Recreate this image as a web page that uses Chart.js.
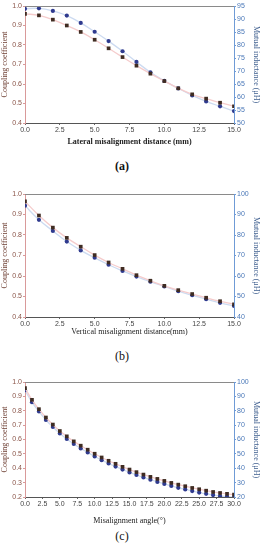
<!DOCTYPE html>
<html>
<head>
<meta charset="utf-8">
<script src="https://cdn.jsdelivr.net/npm/chart.js@4.4.1/dist/chart.umd.min.js"></script>
<style>
  html, body { margin: 0; padding: 0; background: #fff; }
  body { width: 261px; height: 550px; position: relative; overflow: hidden; }
  .panel { position: absolute; left: 0; width: 261px; }
  .tag { position: absolute; left: 0; width: 244px; text-align: center;
         font-family: "Liberation Serif", serif; font-size: 12px; color: #111; }
</style>
</head>
<body>
<div class="panel" style="top:0;height:150px"><canvas id="chartA"></canvas></div>
<div class="tag" style="top:159px;font-weight:bold">(a)</div>
<div class="panel" style="top:185px;height:155px"><canvas id="chartB"></canvas></div>
<div class="tag" style="top:349px">(b)</div>
<div class="panel" style="top:370px;height:159px"><canvas id="chartC"></canvas></div>
<div class="tag" style="top:529px">(c)</div>

<script>
// (a) lateral misalignment
const lateralMm = [0, 1, 2, 3, 4, 5, 6, 7, 8, 9, 10, 11, 12, 13, 14, 15];
const lateralCoupling = [0.96, 0.952, 0.93, 0.90, 0.867, 0.827, 0.783, 0.738, 0.694, 0.653, 0.615, 0.578, 0.547, 0.525, 0.504, 0.486];
const lateralInductance = [93.9, 94.1, 93.1, 91.3, 88.5, 85.1, 81.5, 77.6, 73.5, 69.5, 66.2, 63.3, 60.6, 58.3, 56.4, 54.6];

// (b) vertical misalignment
const verticalMm = [0, 1, 2, 3, 4, 5, 6, 7, 8, 9, 10, 11, 12, 13, 14, 15];
const verticalCoupling = [0.964, 0.895, 0.836, 0.786, 0.743, 0.702, 0.666, 0.635, 0.604, 0.577, 0.552, 0.531, 0.512, 0.494, 0.477, 0.462];
const verticalInductance = [94.3, 87.4, 82.0, 76.8, 72.5, 68.9, 65.5, 62.5, 59.7, 57.2, 54.9, 52.6, 50.6, 48.7, 46.9, 45.4];

// (c) angular misalignment
const angleDeg = [0, 1, 2, 3, 4, 5, 6, 7, 8, 9, 10, 11, 12, 13, 14, 15, 16, 17, 18, 19, 20, 21, 22, 23, 24, 25, 26, 27, 28, 29, 30];
const angleCoupling = [0.958, 0.876, 0.811, 0.753, 0.704, 0.659, 0.622, 0.587, 0.557, 0.529, 0.501, 0.475, 0.452, 0.431, 0.410, 0.391, 0.373, 0.356, 0.340, 0.326, 0.312, 0.298, 0.286, 0.275, 0.263, 0.254, 0.244, 0.235, 0.228, 0.222, 0.217];
const angleInductance = [94.2, 86.0, 79.5, 73.6, 68.7, 64.2, 60.4, 56.9, 53.8, 51.0, 48.2, 45.6, 43.3, 41.2, 39.1, 37.1, 35.3, 33.6, 32.0, 30.5, 29.1, 27.7, 26.4, 25.3, 24.1, 23.1, 22.2, 21.4, 20.7, 20.2, 19.8];

// Colors
const brownDot = "#3f2c22";
const brownLine = "#f5cccc";
const blueDot = "#2f3a8e";
const blueLine = "#cddbf1";
const serif = "'Liberation Serif', 'DejaVu Serif', serif";
const sans = "'Liberation Sans', 'DejaVu Sans', sans-serif";

// draws the gray top border of the plot frame
const topBorder = {
  id: "topBorder",
  afterDraw(chart) {
    const a = chart.chartArea;
    const ctx = chart.ctx;
    ctx.save();
    ctx.strokeStyle = "#8a8a8a";
    ctx.lineWidth = 1;
    ctx.beginPath();
    ctx.moveTo(a.left, a.top + 0.5);
    ctx.lineTo(a.right, a.top + 0.5);
    ctx.stroke();
    ctx.restore();
  },
};

function toPoints(xs, ys) {
  return xs.map((x, i) => ({ x: x, y: ys[i] }));
}

function makeChart(id, cfg) {
  const ctx = document.getElementById(id).getContext("2d");
  return new Chart(ctx, {
    type: "line",
    data: {
      datasets: [
        {
          data: toPoints(cfg.xs, cfg.coupling),
          yAxisID: "y",
          borderColor: brownLine,
          borderWidth: 1.3,
          tension: 0.4,
          pointStyle: "rect",
          pointRadius: 2.6,
          pointBackgroundColor: brownDot,
          pointBorderColor: brownDot,
          pointBorderWidth: 0,
        },
        {
          data: toPoints(cfg.xs, cfg.inductance),
          yAxisID: "y1",
          borderColor: blueLine,
          borderWidth: 1.3,
          tension: 0.4,
          pointStyle: "circle",
          pointRadius: 2.1,
          pointBackgroundColor: blueDot,
          pointBorderColor: blueDot,
          pointBorderWidth: 0,
        },
      ],
    },
    options: {
      responsive: true,
      maintainAspectRatio: false,
      animation: false,
      layout: { padding: { top: cfg.padTop, left: 0, right: 0, bottom: 0 } },
      plugins: { legend: { display: false }, tooltip: { enabled: false } },
      scales: {
        x: {
          type: "linear",
          min: cfg.xMin,
          max: cfg.xMax,
          afterFit: (s) => { s.height = cfg.xHeight; },
          ticks: {
            stepSize: 2.5,
            autoSkip: false,
            maxRotation: 0,
            padding: 1,
            color: "#444",
            font: { family: sans, size: 7 },
            callback: (v) => v.toFixed(1),
          },
          grid: { drawOnChartArea: false, tickLength: 2, color: "#666" },
          border: { color: "#555" },
          title: {
            display: true,
            text: cfg.xTitle,
            color: "#222",
            font: { family: serif, size: 8, weight: cfg.boldTitle ? "bold" : "normal" },
            padding: { top: 2, bottom: 3 },
          },
        },
        y: {
          position: "left",
          min: cfg.yMin,
          max: 1.0,
          afterFit: (s) => { s.width = 25; },
          ticks: {
            stepSize: 0.1,
            padding: 1,
            color: "#8a5448",
            font: { family: sans, size: 7 },
            callback: (v) => v.toFixed(1),
          },
          grid: { drawOnChartArea: false, tickLength: 2, color: "#d99a9a" },
          border: { color: "#d99a9a" },
          title: {
            display: true,
            text: "Coupling coefficient",
            color: "#6e3f33",
            font: { family: serif, size: 8 },
            padding: { top: 0, bottom: 0 },
          },
        },
        y1: {
          position: "right",
          min: cfg.rMin,
          max: cfg.rMax,
          afterFit: (s) => { s.width = 27; },
          ticks: {
            stepSize: cfg.rStep,
            padding: 1,
            color: "#4a78b8",
            font: { family: sans, size: 7 },
          },
          grid: { drawOnChartArea: false, tickLength: 2, color: "#6f9bd6" },
          border: { color: "#6f9bd6" },
          title: {
            display: true,
            text: "Mutual inductance (μH)",
            color: "#3f5f8f",
            font: { family: serif, size: 8 },
            padding: { top: 0, bottom: 0 },
          },
        },
      },
    },
    plugins: [topBorder],
  });
}

makeChart("chartA", {
  xs: lateralMm, coupling: lateralCoupling, inductance: lateralInductance,
  xMin: 0, xMax: 15, yMin: 0.4, rMin: 50, rMax: 95, rStep: 5,
  padTop: 6, xHeight: 27, boldTitle: true,
  xTitle: "Lateral misalignment distance (mm)",
});

makeChart("chartB", {
  xs: verticalMm, coupling: verticalCoupling, inductance: verticalInductance,
  xMin: 0, xMax: 15, yMin: 0.4, rMin: 40, rMax: 100, rStep: 5,
  padTop: 9, xHeight: 23, boldTitle: false,
  xTitle: "Vertical misalignment distance(mm)",
});

makeChart("chartC", {
  xs: angleDeg, coupling: angleCoupling, inductance: angleInductance,
  xMin: 0, xMax: 30, yMin: 0.2, rMin: 20, rMax: 100, rStep: 10,
  padTop: 12, xHeight: 32, boldTitle: false,
  xTitle: "Misalignment angle(°)",
});
</script>
</body>
</html>
